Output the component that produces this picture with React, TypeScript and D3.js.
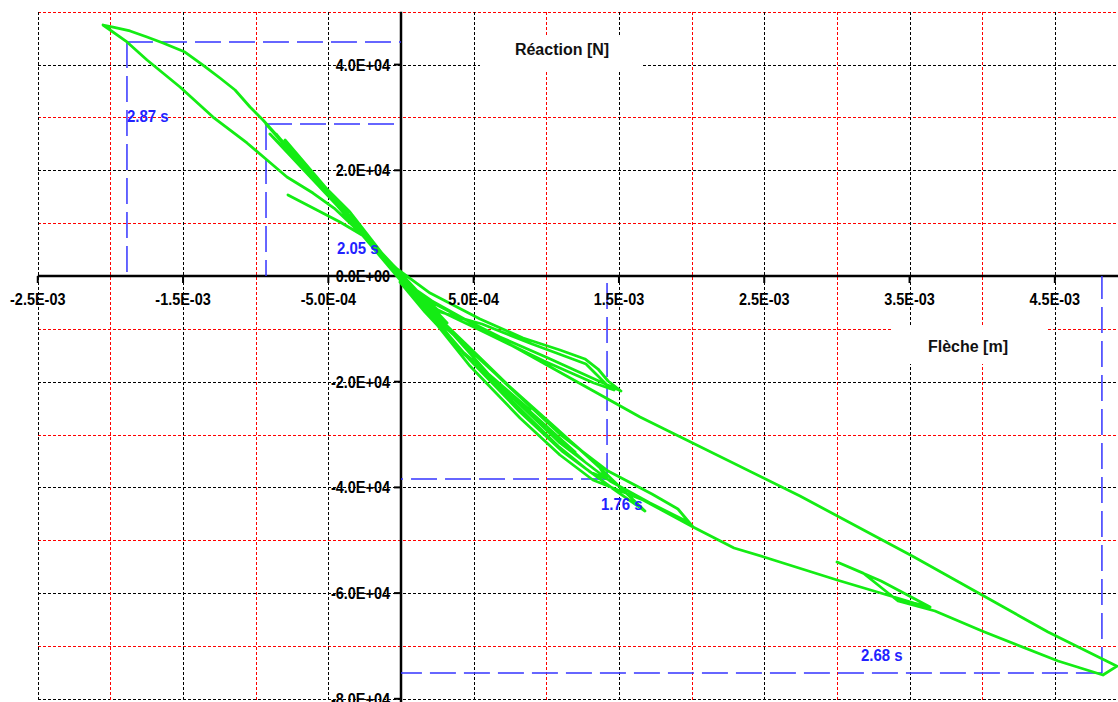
import React from 'react'
import * as d3 from 'd3'

const W = 1118
const H = 702

// axis ticks (labelled, black dotted grid) and intermediate red dotted grid
const xTicks = [-2.5e-3, -1.5e-3, -5e-4, 5e-4, 1.5e-3, 2.5e-3, 3.5e-3, 4.5e-3]
const xTickLabels = ['-2.5E-03', '-1.5E-03', '-5.0E-04', '5.0E-04', '1.5E-03', '2.5E-03', '3.5E-03', '4.5E-03']
const xMinor = [-2e-3, -1e-3, 1e-3, 2e-3, 3e-3, 4e-3]
const yTicks = [4e4, 2e4, 0, -2e4, -4e4, -6e4, -8e4]
const yTickLabels = ['4.0E+04', '2.0E+04', '0.0E+00', '-2.0E+04', '-4.0E+04', '-6.0E+04', '-8.0E+04']
const yMinor = [5e4, 3e4, 1e4, -1e4, -3e4, -5e4, -7e4]

// flèche [mm], réaction [kN]
const curve: [number, number][] = [
  [0, 0], [-0.103, 3.22], [0.11, -3.22], [-0.172, 5.49], [0.213, -6.05], [-0.241, 7.57], [0.317, -8.89], [-0.062, 2.08],
  [0.2, -3.22], [0.544, -8.14], [0.84, -11.73], [1.094, -14.0], [1.266, -15.7], [1.356, -17.6], [1.425, -19.87], [1.514, -21.76],
  [1.376, -20.06], [1.012, -15.52], [0.681, -11.54], [0.406, -7.76], [0.089, -3.22], [-0.089, 2.65],
  [-0.317, 10.22], [-0.557, 17.41], [-0.723, 22.89], [-0.489, 15.14], [-0.2, 6.05], [0.131, -4.54],
  [0.475, -13.62], [0.785, -21.95], [1.094, -29.52], [1.356, -35.76], [1.418, -38.41], [1.301, -37.09], [1.081, -32.17],
  [0.764, -23.65], [0.427, -14.38], [0.131, -4.92], [0, -0.38], [-0.213, 6.43], [-0.489, 15.14], [-0.709, 21.95],
  [-0.929, 28.76], [-0.798, 24.98], [-0.544, 17.41], [-0.282, 9.08], [0, 0], [0.268, -6.81],
  [0.557, -9.08], [0.902, -12.87], [1.273, -16.65], [1.411, -20.44], [1.466, -21.57], [1.328, -20.25], [0.984, -16.08],
  [0.557, -10.41], [0.241, -6.24], [0.021, -1.32], [-0.248, 7.57], [-0.571, 17.41], [-0.819, 24.6], [-0.902, 26.87],
  [-0.695, 20.81], [-0.385, 11.73], [0.028, -1.32],
  [-0.351, 12.11], [-0.613, 19.3], [-0.434, 14.0], [-0.798, 25.73], [-0.56, 17.0], [-0.86, 26.87], [-0.25, 7.2],
  [0.372, -13.06], [0.888, -25.35], [0.7, -21.0], [1.198, -33.3], [1.0, -29.0], [1.266, -35.19], [0.6, -18.5], [0.05, -1.5],
  [0.337, -10.22], [0.716, -20.25], [1.108, -30.27], [1.425, -36.9], [1.727, -41.25], [1.906, -44.09], [2.01, -47.49],
  [1.975, -46.55], [1.714, -42.95], [1.438, -38.79], [1.094, -31.6], [0.785, -23.46], [0.44, -14.95], [0.165, -5.68], [0, -0.57],
  [0.303, -9.65], [0.681, -19.3], [1.067, -28.76], [1.37, -36.33], [1.679, -44.47], [1.452, -40.11], [1.115, -33.3],
  [0.819, -25.73], [0.475, -15.89], [0.165, -6.81], [-0.007, -1.14],
  [0.103, -2.65], [0.213, -4.73], [0.819, -14.0], [1.645, -26.68], [2.746, -41.63], [3.531, -53.17], [4.453, -67.36],
  [4.928, -73.82], [4.831, -75.5], [4.522, -72.85], [3.999, -67.17], [3.675, -63.39], [3.421, -61.49], [3.18, -56.2],
  [3.001, -54.12], [3.304, -57.71], [3.641, -62.63], [3.531, -61.87], [3.001, -57.52], [2.498, -53.17], [2.292, -51.47],
  [2.01, -47.49], [1.666, -42.38], [1.321, -38.6], [1.094, -33.87], [0.819, -26.87], [0.475, -17.03], [0.2, -7.57], [0, -0.57],
  [-0.248, 7.57], [-0.557, 17.6], [-0.764, 23.84], [-0.95, 29.52], [-1.039, 31.98], [-1.142, 35.19], [-1.246, 37.46],
  [-1.363, 39.92], [-1.487, 42.38], [-1.638, 44.09], [-1.748, 45.22], [-1.865, 46.36], [-1.982, 47.11], [-2.051, 47.49],
  [-1.886, 44.28], [-1.748, 40.87], [-1.521, 35.76], [-1.294, 30.08], [-1.06, 25.17], [-0.922, 21.95], [-0.785, 18.73],
  [-0.606, 15.7], [-0.454, 12.68], [-0.227, 6.81], [-0.034, 1.51], [0.096, -2.65], [-0.234, 7.19], [-0.42, 10.22], [-0.778, 15.33],
]

// time markers: point [mm, kN] and label anchor [mm, kN]
const markers = [
  { label: '2.87 s', x: -1.886, y: 44.28, lx: -1.886, ly: 29.14 },
  { label: '2.05 s', x: -0.929, y: 28.76, lx: -0.44, ly: 4.16 },
  { label: '1.76 s', x: 1.418, y: -38.41, lx: 1.376, ly: -44.28 },
  { label: '2.68 s', x: 4.824, y: -75.12, lx: 3.166, ly: -72.85 },
]

export default function App() {
  const x = d3.scaleLinear().domain([-2.5e-3, 4.5e-3]).range([37.75, 1054.85])
  const y = d3.scaleLinear().domain([-8e4, 4e4]).range([698.8, 64.6])

  const top = y(5e4)
  const left = x(-2.5e-3)
  const x0 = x(0)
  const y0 = y(0)

  const line = d3.line<[number, number]>()
    .x(d => x(d[0] * 1e-3))
    .y(d => y(d[1] * 1e3))

  const font = '"Liberation Sans", Arial, sans-serif'

  return (
    <svg width={W} height={H} style={{ position: 'absolute', left: 0, top: 0, background: '#fff' }}>
      <rect width={W} height={H} fill="#fff" />

      {/* grid */}
      <g shapeRendering="crispEdges" strokeWidth={1} strokeDasharray="3,2">
        {yMinor.map(v => (
          <line key={'ym' + v} x1={left} x2={W} y1={Math.round(y(v)) + 0.5} y2={Math.round(y(v)) + 0.5} stroke="#ff0000" />
        ))}
        {yTicks.map(v => (
          <line key={'yt' + v} x1={left} x2={W} y1={Math.round(y(v)) + 0.5} y2={Math.round(y(v)) + 0.5} stroke="#000" />
        ))}
        {xMinor.map(v => (
          <line key={'xm' + v} x1={Math.round(x(v)) + 0.5} x2={Math.round(x(v)) + 0.5} y1={top} y2={H} stroke="#ff0000" />
        ))}
        {xTicks.map(v => (
          <line key={'xt' + v} x1={Math.round(x(v)) + 0.5} x2={Math.round(x(v)) + 0.5} y1={top} y2={H} stroke="#000" />
        ))}
      </g>

      {/* title boxes */}
      <rect x={480} y={35} width={162} height={35} fill="#fff" />
      <text x={562} y={55} textAnchor="middle" fontFamily={font} fontWeight="bold" fontSize={16} fill="#111">Réaction [N]</text>
      <rect x={892} y={326} width={155} height={38} fill="#fff" />
      <text x={968} y={352} textAnchor="middle" fontFamily={font} fontWeight="bold" fontSize={16} fill="#111">Flèche [m]</text>

      {/* axes */}
      <line x1={x0} x2={x0} y1={top} y2={H} stroke="#000" strokeWidth={2.5} />
      <line x1={left} x2={W} y1={y0} y2={y0} stroke="#000" strokeWidth={2.5} />
      {yTicks.map(v => (
        <line key={'ytk' + v} x1={x0 - 7} x2={x0} y1={y(v)} y2={y(v)} stroke="#000" strokeWidth={2} />
      ))}
      {xTicks.map(v => (
        <line key={'xtk' + v} x1={x(v)} x2={x(v)} y1={y0} y2={y0 + 7} stroke="#000" strokeWidth={2} />
      ))}

      {/* time markers */}
      <g stroke="#3434ff" strokeWidth={1.5} strokeDasharray="26,8" fill="none">
        {markers.map(m => (
          <g key={m.label}>
            <line x1={x(m.x * 1e-3)} x2={x(m.x * 1e-3)} y1={y(m.y * 1e3)} y2={y0} />
            <line x1={x(m.x * 1e-3)} x2={x0} y1={y(m.y * 1e3)} y2={y(m.y * 1e3)} />
          </g>
        ))}
      </g>

      {/* curve */}
      <path d={line(curve) ?? ''} fill="none" stroke="#14ec14" strokeWidth={2.8} strokeLinejoin="round" strokeLinecap="round" />

      {/* tick labels */}
      <g fontFamily={font} fontWeight="bold" fontSize={17} fill="#000">
        {yTicks.map((v, i) => (
          <text key={'yl' + v} transform={`translate(${x0 - 11},${y(v) + 6}) scale(0.85,1)`} textAnchor="end">{yTickLabels[i]}</text>
        ))}
        {xTicks.map((v, i) => (
          <text key={'xl' + v} transform={`translate(${x(v)},${y0 + 29}) scale(0.85,1)`} textAnchor="middle">{xTickLabels[i]}</text>
        ))}
      </g>

      <g fontFamily={font} fontWeight="bold" fontSize={17} fill="#2222ff">
        {markers.map(m => (
          <text key={'ml' + m.label} transform={`translate(${x(m.lx * 1e-3)},${y(m.ly * 1e3)}) scale(0.88,1)`}>{m.label}</text>
        ))}
      </g>
    </svg>
  )
}
